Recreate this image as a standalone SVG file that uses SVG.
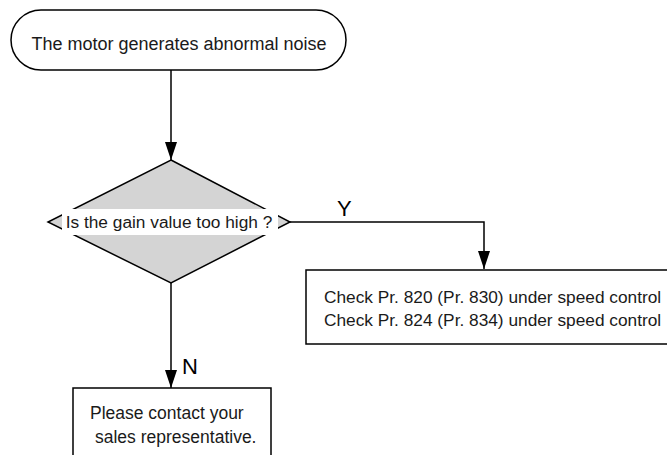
<svg xmlns="http://www.w3.org/2000/svg" width="667" height="455" viewBox="0 0 667 455">
<defs>
<style>
.shape{fill:#fff;stroke:#000;stroke-width:1.5}
.dia{fill:#d4d4d4;stroke:#000;stroke-width:1.5}
.t{font-family:"Liberation Sans",Arial,sans-serif;font-size:17.5px;fill:#1a1a1a}
.t2{font-family:"Liberation Sans",Arial,sans-serif;font-size:17.3px;fill:#1a1a1a}
.lbl{font-family:"Liberation Sans",Arial,sans-serif;font-size:22px;fill:#000}
.conn{fill:none;stroke:#000;stroke-width:1.5}
</style>
<marker id="arr" viewBox="0 0 18 12" refX="18" refY="6" markerWidth="18" markerHeight="12" markerUnits="userSpaceOnUse" orient="auto">
<path d="M0,0 L18,6 L0,12 Z" fill="#000"/>
</marker>
</defs>
<rect width="667" height="455" fill="#fff"/>
<g id="connectors">
<path class="conn" d="M171,70 V160" marker-end="url(#arr)"/>
<path class="conn" d="M290,222 H484 V269" marker-end="url(#arr)"/>
<path class="conn" d="M171,283 V388" marker-end="url(#arr)"/>
<text class="lbl" x="337" y="216">Y</text>
<text class="lbl" x="182" y="374">N</text>
</g>
<g id="start">
<rect class="shape" x="11" y="10" width="335" height="60" rx="30" ry="30"/>
<text class="t" x="179" y="50" style="font-size:18px" text-anchor="middle">The motor generates abnormal noise</text>
</g>
<g id="decision">
<polygon class="dia" points="171,160 290,222 171,283 48,222"/>
<rect x="62" y="209" width="216" height="26" fill="#fff"/>
<text class="t2" x="169" y="228" text-anchor="middle">Is the gain value too high ?</text>
</g>
<g id="check">
<rect class="shape" x="306" y="270" width="370" height="74"/>
<text class="t2" x="324" y="303">Check Pr. 820 (Pr. 830) under speed control</text>
<text class="t2" x="324" y="326">Check Pr. 824 (Pr. 834) under speed control</text>
</g>
<g id="contact">
<rect class="shape" x="73" y="388" width="198" height="80"/>
<text class="t" x="90" y="419">Please contact your</text>
<text class="t" x="95" y="443">sales representative.</text>
</g>
</svg>
